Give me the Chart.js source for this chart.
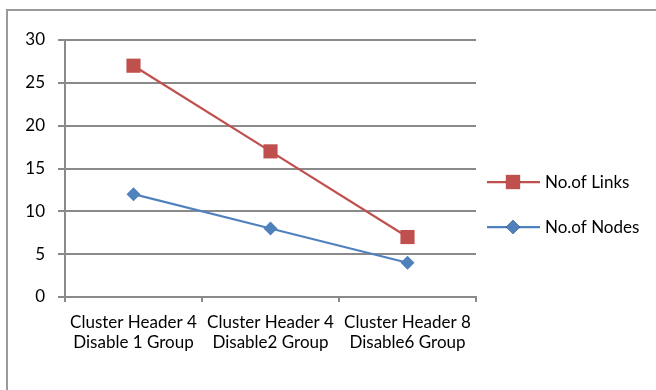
<!DOCTYPE html>
<html>
<head>
<meta charset="utf-8">
<script src="https://cdn.jsdelivr.net/npm/chart.js@4"></script>
<style>
  html, body { margin: 0; padding: 0; background: #fff; }
  #wrap { position: relative; width: 656px; height: 390px; overflow: hidden; }
  #frame { position: absolute; left: 6px; top: 9px; width: 700px; height: 450px;
           border-left: 2px solid #9a9a9a; border-top: 2px solid #9a9a9a; }
  canvas { position: absolute; left: 0; top: 0; }
</style>
</head>
<body>
<div id="wrap">
  <div id="frame"></div>
  <canvas id="c" width="656" height="390"></canvas>
</div>
<script>
const categories = [
  ['Cluster Header 4', 'Disable 1 Group'],
  ['Cluster Header 4', 'Disable2 Group'],
  ['Cluster Header 8', 'Disable6 Group']
];
const linksValues = [27, 17, 7];
const nodesValues = [12, 8, 4];
const yTicks = [0, 5, 10, 15, 20, 25, 30];

const FONT = 'Lato, "Open Sans", sans-serif';
const GRID = '#8a8a8a';

// Legend drawn as a line with its marker in the middle, to the right of the plot
const sideLegend = {
  id: 'sideLegend',
  afterDraw(chart) {
    const ctx = chart.ctx;
    const area = chart.chartArea;
    const x0 = area.right + 11;
    const rows = [area.top + 142, area.top + 187];
    chart.data.datasets.forEach((ds, i) => {
      const y = rows[i];
      ctx.save();
      ctx.strokeStyle = ds.borderColor;
      ctx.lineWidth = 2.25;
      ctx.beginPath();
      ctx.moveTo(x0, y);
      ctx.lineTo(x0 + 53, y);
      ctx.stroke();
      Chart.helpers.drawPoint(ctx, {
        pointStyle: ds.pointStyle,
        radius: ds.pointRadius,
        borderWidth: 0
      }, x0 + 26, y);
      ctx.fillStyle = ds.backgroundColor;
      ctx.fill();
      ctx.fillStyle = '#000';
      ctx.font = '17px ' + FONT;
      ctx.textBaseline = 'middle';
      ctx.textAlign = 'left';
      ctx.fillText(ds.label, x0 + 58, y + 1);
      ctx.restore();
    });
  }
};

new Chart(document.getElementById('c'), {
  type: 'line',
  data: {
    labels: categories,
    datasets: [
      {
        label: 'No.of Links',
        data: linksValues,
        borderColor: '#C0504D',
        backgroundColor: '#C0504D',
        borderWidth: 2.25,
        pointStyle: 'rect',
        pointRadius: 10,
        pointHoverRadius: 10,
        pointBorderWidth: 0
      },
      {
        label: 'No.of Nodes',
        data: nodesValues,
        borderColor: '#4F81BD',
        backgroundColor: '#4F81BD',
        borderWidth: 2.25,
        pointStyle: 'rectRot',
        pointRadius: 7,
        pointHoverRadius: 7,
        pointBorderWidth: 0
      }
    ]
  },
  options: {
    responsive: false,
    animation: false,
    events: [],
    layout: { padding: { left: 0, top: 40, right: 180, bottom: 0 } },
    plugins: { legend: { display: false }, tooltip: { enabled: false } },
    scales: {
      x: {
        offset: true,
        grid: {
          offset: true,
          drawOnChartArea: false,
          drawTicks: true,
          tickLength: 5,
          color: GRID,
          lineWidth: 2
        },
        border: { display: true, color: GRID, width: 2 },
        ticks: {
          color: '#000',
          font: { family: FONT, size: 17, lineHeight: 1.2 },
          padding: 10,
          maxRotation: 0,
          autoSkip: false
        },
        afterFit(scale) { scale.height = 93; }
      },
      y: {
        min: 0,
        max: 30,
        afterBuildTicks(scale) { scale.ticks = yTicks.map(v => ({ value: v })); },
        grid: {
          color: GRID,
          lineWidth: 2,
          drawTicks: true,
          tickLength: 7
        },
        border: { display: true, color: GRID, width: 2 },
        ticks: {
          color: '#000',
          font: { family: FONT, size: 17 },
          padding: 13
        },
        afterFit(scale) { scale.width = 65; }
      }
    }
  },
  plugins: [sideLegend]
});
</script>
</body>
</html>
